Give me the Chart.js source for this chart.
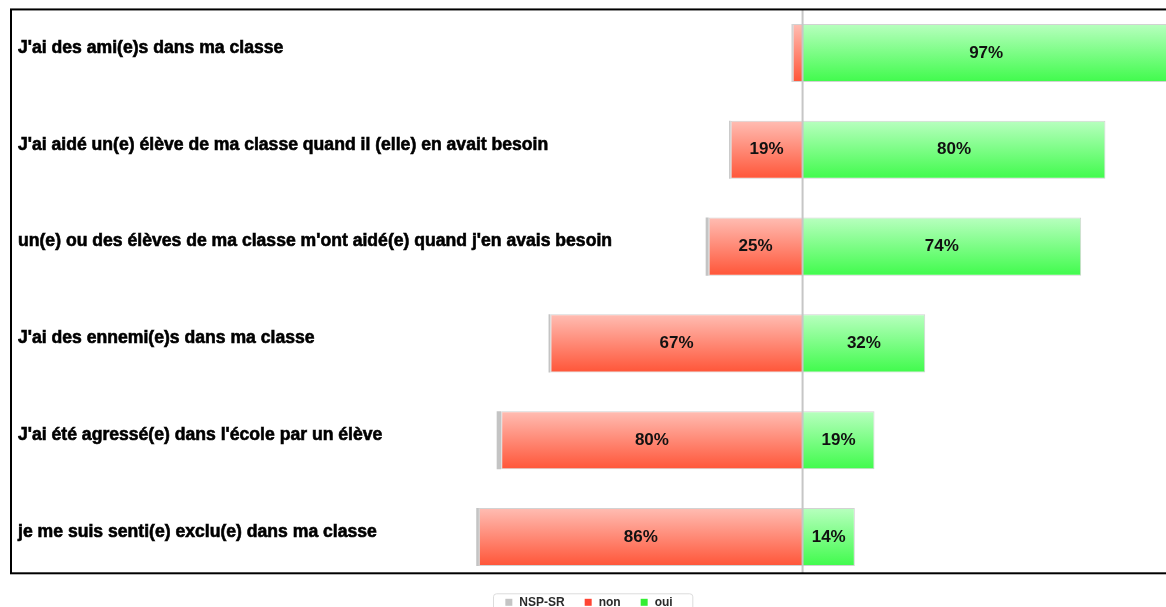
<!DOCTYPE html>
<html>
<head>
<meta charset="utf-8">
<script src="https://cdn.jsdelivr.net/npm/chart.js@4"></script>
<style>
  html, body { margin: 0; padding: 0; background: #fff; }
  #wrap { width: 1166px; height: 607px; }
</style>
</head>
<body>
<div id="wrap"><canvas id="barChart" width="1166" height="607"></canvas></div>
<script>
// questions, top to bottom
const questions = [
    "J'ai des ami(e)s dans ma classe",
    "J'ai aidé un(e) élève de ma classe quand il (elle) en avait besoin",
    "un(e) ou des élèves de ma classe m'ont aidé(e) quand j'en avais besoin",
    "J'ai des ennemi(e)s dans ma classe",
    "J'ai été agressé(e) dans l'école par un élève",
    "je me suis senti(e) exclu(e) dans ma classe"
];
// percentages
const ouiValues = [97, 80, 73.6, 32.4, 19, 13.8];
const nonValues = [2.6, 19, 24.8, 66.6, 79.6, 85.5];
const nspValues = [0.3, 0.4, 0.8, 0.5, 1.2, 0.7];

const seriesNames = ['oui', 'non', 'NSP-SR'];
const legendColors = ['#33ee33', '#ff4433', '#c4c4c4'];
const BAR_PCT = 0.6;
const LABEL_FONT = '"Liberation Sans", Arial, sans-serif';

// vertical gradient per bar, built from the y scale
function barGradient(top, bottom, solid) {
    return function(context) {
        const chart = context.chart;
        const y = chart.scales.y;
        if (context.type !== 'data' || !y) return solid;
        const yc = y.getPixelForValue(context.dataIndex);
        const half = Math.abs(y.getPixelForValue(1) - y.getPixelForValue(0)) * BAR_PCT / 2;
        if (!isFinite(yc) || !isFinite(half) || half <= 0) return solid;
        const g = chart.ctx.createLinearGradient(0, yc - half, 0, yc + half);
        g.addColorStop(0, top);
        g.addColorStop(1, bottom);
        return g;
    };
}

// frame, centre line, question texts, value labels and the legend
const decorPlugin = {
    id: 'decor',
    afterDatasetsDraw(chart) {
        const { ctx, chartArea, scales } = chart;
        const x0 = scales.x.getPixelForValue(0);
        const step = scales.y.getPixelForValue(1) - scales.y.getPixelForValue(0);
        const frameTop = scales.y.getPixelForValue(0) - step * 0.45;
        const frameBottom = scales.y.getPixelForValue(questions.length - 1) + step * 0.375;

        ctx.save();
        // centre line
        ctx.strokeStyle = '#c6c6c6';
        ctx.lineWidth = 2;
        ctx.beginPath();
        ctx.moveTo(x0, frameTop);
        ctx.lineTo(x0, frameBottom);
        ctx.stroke();

        // frame
        ctx.strokeStyle = '#000';
        ctx.lineWidth = 2;
        ctx.strokeRect(chartArea.left + 11, frameTop, chartArea.right + 20, frameBottom - frameTop);

        // question labels
        ctx.fillStyle = '#000';
        ctx.strokeStyle = '#000';
        ctx.lineWidth = 0.6;
        ctx.font = 'bold 17.6px ' + LABEL_FONT;
        ctx.textAlign = 'left';
        ctx.textBaseline = 'middle';
        questions.forEach((q, i) => {
            const y = scales.y.getPixelForValue(i) - 5;
            ctx.fillText(q, chartArea.left + 18, y);
            ctx.strokeText(q, chartArea.left + 18, y);
        });

        // values in the bars
        ctx.font = 'bold 17px ' + LABEL_FONT;
        ctx.textAlign = 'center';
        ctx.fillStyle = '#111';
        [0, 1].forEach(di => {
            const meta = chart.getDatasetMeta(di);
            meta.data.forEach((bar, i) => {
                const v = Math.abs(chart.data.datasets[di].data[i]);
                if (v < 5) return;
                const p = bar.getProps(['x', 'y', 'base'], true);
                ctx.fillText(Math.round(v) + '%', (p.x + p.base) / 2, p.y);
            });
        });

        // legend below the frame: NSP-SR, non, oui
        const order = [2, 1, 0];
        ctx.font = 'bold 12px ' + LABEL_FONT;
        ctx.textAlign = 'left';
        const box = 7, gap = 7, space = 20;
        const widths = order.map(di => box + gap + ctx.measureText(chart.data.datasets[di].label).width);
        const total = widths.reduce((a, b) => a + b, 0) + space * (order.length - 1);
        let lx = chart.width / 2 + 6 - total / 2;
        const ly = frameBottom + 29;

        ctx.strokeStyle = '#dcdcdc';
        ctx.lineWidth = 1;
        ctx.beginPath();
        ctx.roundRect(Math.round(lx - 12) + 0.5, ly - 8.5, total + 32, 24, 3);
        ctx.stroke();

        order.forEach((di, k) => {
            ctx.fillStyle = legendColors[di];
            ctx.fillRect(lx, ly - box / 2, box, box);
            ctx.fillStyle = '#2a2a2a';
            ctx.fillText(chart.data.datasets[di].label, lx + box + gap, ly);
            lx += widths[k] + space;
        });
        ctx.restore();
    }
};

const ctx = document.getElementById('barChart').getContext('2d');
const barChart = new Chart(ctx, {
    type: 'bar',
    data: {
        labels: questions,
        datasets: [
            {
                label: seriesNames[0],
                data: ouiValues,
                backgroundColor: barGradient('#b8ffbf', '#40fb4c', legendColors[0]),
                borderColor: '#d2d2d2',
                borderWidth: 1,
                borderSkipped: 'start'
            },
            {
                label: seriesNames[1],
                data: nonValues.map(v => -v),
                backgroundColor: barGradient('#ffbdb3', '#ff5538', legendColors[1]),
                borderColor: '#d2d2d2',
                borderWidth: 1,
                borderSkipped: 'start'
            },
            {
                label: seriesNames[2],
                data: nspValues.map(v => -v),
                backgroundColor: legendColors[2],
                borderColor: legendColors[2],
                borderWidth: 0
            }
        ]
    },
    options: {
        indexAxis: 'y',
        responsive: false,
        animation: false,
        devicePixelRatio: 1,
        barPercentage: BAR_PCT,
        categoryPercentage: 1,
        layout: { padding: { top: 4.6, bottom: 21.6, left: 0, right: 0 } },
        scales: {
            x: {
                stacked: true,
                display: false,
                min: -212,
                max: 96
            },
            y: {
                stacked: true,
                display: false
            }
        },
        plugins: {
            tooltip: { enabled: false },
            legend: { display: false }
        }
    },
    plugins: [decorPlugin]
});
console.log('chart area', barChart.chartArea);
</script>
</body>
</html>
